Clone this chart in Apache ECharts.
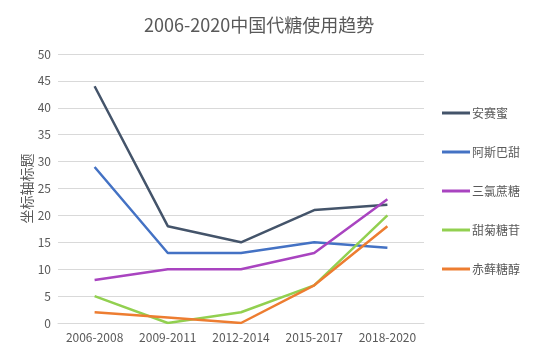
<!DOCTYPE html>
<html>
<head>
<meta charset="utf-8">
<script src="https://cdn.jsdelivr.net/npm/echarts@6/dist/echarts.min.js"></script>
<style>
  html, body { margin: 0; padding: 0; background: #fff; }
  #chart { width: 548px; height: 354px; }
</style>
</head>
<body>
<div id="chart"></div>
<script>
// 2006-2020 sweetener usage trend
const periods = ['2006-2008', '2009-2011', '2012-2014', '2015-2017', '2018-2020'];
const names = ['安赛蜜', '阿斯巴甜', '三氯蔗糖', '甜菊糖苷', '赤藓糖醇'];
const acesulfame = [44, 18, 15, 21, 22];
const aspartame = [29, 13, 13, 15, 14];
const sucralose = [8, 10, 10, 13, 23];
const stevioside = [5, 0, 2, 7, 20];
const erythritol = [2, 1, 0, 7, 18];
const colors = ['#44546a', '#4472c4', '#a944c0', '#92d050', '#ed7d31'];

const chart = echarts.init(document.getElementById('chart'));
const font = '"Noto Sans CJK SC", "Noto Sans", sans-serif';
const values = [acesulfame, aspartame, sucralose, stevioside, erythritol];

chart.setOption({
  animation: false,
  backgroundColor: '#fff',
  textStyle: { fontFamily: font },
  title: {
    text: '2006-2020中国代糖使用趋势',
    left: 139,
    top: 11,
    textStyle: { color: '#595959', fontSize: 18, fontWeight: 'normal', fontFamily: font },
  },
  legend: {
    orient: 'vertical',
    left: 437,
    top: 102,
    itemGap: 27,
    itemWidth: 28,
    itemHeight: 3,
    icon: 'rect',
    data: names,
    textStyle: { color: '#595959', fontSize: 12, fontFamily: font, padding: [0, 0, 0, -3] },
  },
  grid: { left: 58, right: 124, top: 54, bottom: 31 },
  xAxis: {
    type: 'category',
    data: periods,
    boundaryGap: true,
    axisLine: { lineStyle: { color: '#d9d9d9' } },
    axisTick: { show: false },
    axisLabel: { color: '#595959', fontSize: 12, margin: 8, interval: 0, hideOverlap: false },
  },
  yAxis: {
    type: 'value',
    min: 0,
    max: 50,
    interval: 5,
    name: '坐标轴标题',
    nameLocation: 'middle',
    nameGap: 24,
    nameMoveOverlap: false,
    nameTextStyle: { color: '#595959', fontSize: 14 },
    axisLine: { show: false },
    axisTick: { show: false },
    axisLabel: { color: '#595959', fontSize: 12, margin: 7 },
    splitLine: { lineStyle: { color: '#d9d9d9' } },
  },
  series: names.map((n, i) => ({
    name: n,
    type: 'line',
    data: values[i],
    showSymbol: false,
    symbol: 'none',
    lineStyle: { width: 2.5, color: colors[i] },
    itemStyle: { color: colors[i] },
  })),
});
</script>
</body>
</html>
